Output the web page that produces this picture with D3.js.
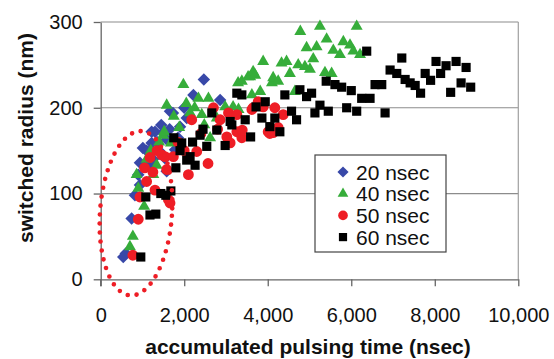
<!DOCTYPE html>
<html>
<head>
<meta charset="utf-8">
<script src="https://cdn.jsdelivr.net/npm/d3@7"></script>
<style>
  body { margin: 0; background: #fff; }
  svg { display: block; font-family: "Liberation Sans", Arial, sans-serif; }
</style>
</head>
<body>
<svg id="chart" width="554" height="359"></svg>
<script>
// switched radius vs accumulated pulsing time, four pulse widths

const seriesNames = ["20 nsec", "40 nsec", "50 nsec", "60 nsec"];
const yTicks = [0, 100, 200, 300];
const xTicks = [0, 2000, 4000, 6000, 8000, 10000];

// [accumulated time (nsec), radius (nm)]
const pts20 = [
  [540,26],[600,30],[740,71],[820,98],[900,122],[940,110],[940,136],[1010,153],
  [1100,150],[1140,133],[1180,150],[1220,159],[1220,172],[1250,140],[1300,172],
  [1350,160],[1400,150],[1450,180],[1490,171],[1540,141],[1580,126],[1580,163],
  [1650,175],[1660,196],[1730,194],[1780,151],[1850,165],[1900,178],[2000,200],
  [2060,188],[2220,215],[2470,233],[2860,209]
];
const pts40 = [
  [700,38],[770,50],[860,122],[900,106],[1040,85],[1100,140],[1200,150],[1260,122],
  [1340,133],[1400,160],[1500,168],[1520,172],[1580,203],[1680,159],[1750,190],
  [1880,177],[1980,227],[2050,205],[2140,194],[2250,200],[2340,211],[2420,192],
  [2480,180],[2580,211],[2620,165],[2780,188],[2980,201],[3170,201],[3290,229],
  [3300,198],[3380,231],[3530,236],[3580,236],[3620,215],[3650,242],[3700,238],
  [3820,219],[3890,254],[4100,229],[4130,235],[4250,231],[4330,252],[4450,254],
  [4530,240],[4650,219],[4730,250],[4780,289],[4890,248],[4930,270],[5010,245],
  [5090,257],[5170,271],[5250,295],[5370,241],[5410,280],[5530,240],[5570,267],
  [5730,262],[5810,277],[5970,273],[6050,266],[6130,295],[6210,262]
];
const pts50 = [
  [770,28],[900,70],[940,96],[1050,130],[1100,114],[1180,142],[1250,125],[1300,104],
  [1350,150],[1460,145],[1540,143],[1580,128],[1620,93],[1660,89],[1740,143],
  [1850,160],[2000,150],[2100,122],[2180,186],[2300,149],[2400,170],[2570,135],
  [2700,200],[2800,175],[2860,186],[3020,166],[3060,194],[3100,159],[3260,172],
  [3260,192],[3380,165],[3390,174],[3620,198],[3650,200],[3770,207],[3890,201],
  [4010,172],[4050,170],[4130,171],[4170,200],[4250,177],[4370,192]
];
const pts60 = [
  [960,26],[1080,96],[1180,75],[1320,76],[1440,100],[1560,98],[1680,103],[1750,165],
  [1800,130],[1900,150],[1940,159],[2060,139],[2140,143],[2200,160],[2260,133],
  [2380,168],[2450,175],[2540,155],[2660,194],[2780,174],[2980,156],[3100,184],
  [3140,180],[3260,217],[3380,215],[3460,186],[3590,166],[3720,201],[3860,188],
  [3940,207],[4050,178],[4170,188],[4290,172],[4410,215],[4570,196],[4690,186],
  [4770,221],[4930,213],[5050,217],[5130,194],[5250,203],[5400,231],[5450,196],
  [5610,227],[5770,224],[5890,200],[6000,220],[6130,196],[6250,211],[6370,266],
  [6450,211],[6570,227],[6730,227],[6810,194],[6930,244],[7090,240],[7210,258],
  [7290,233],[7410,229],[7530,226],[7660,217],[7770,240],[7900,232],[8030,254],
  [8140,240],[8270,249],[8380,218],[8510,254],[8630,229],[8750,247],[8860,224]
];

// dotted ellipse around the early points, in data units
const ringCenter = [845, 77];
const ringRadii = [862, 96];

const colors = ["#3848a8", "#36ad3a", "#ee1d25", "#000000"];
const allSeries = [pts20, pts40, pts50, pts60];

const svg = d3.select("#chart");

const x = d3.scaleLinear().domain([0, 10000]).range([100.7, 518.3]);
const y = d3.scaleLinear().domain([0, 300]).range([279.3, 22]);

// gridlines + right border
svg.append("g")
  .selectAll("line")
  .data(yTicks.filter(d => d > 0))
  .join("line")
  .attr("x1", x(0)).attr("x2", x(10000))
  .attr("y1", d => y(d)).attr("y2", d => y(d))
  .attr("stroke", "#8c8c8c").attr("stroke-width", 1.2);

svg.append("line")
  .attr("x1", x(10000)).attr("x2", x(10000))
  .attr("y1", y(300)).attr("y2", y(0))
  .attr("stroke", "#a0a0a0").attr("stroke-width", 1.2);

// axes
const xAxis = svg.append("g")
  .attr("transform", `translate(0,${y(0)})`)
  .call(d3.axisBottom(x).tickValues(xTicks).tickFormat(d3.format(",")).tickSize(7).tickPadding(22).tickSizeOuter(0));

const yAxis = svg.append("g")
  .attr("transform", `translate(${x(0)},0)`)
  .call(d3.axisLeft(y).tickValues(yTicks).tickSize(7).tickPadding(11).tickSizeOuter(0));

[xAxis, yAxis].forEach(g => {
  g.select(".domain").attr("stroke", "#666").attr("stroke-width", 1.3);
  g.selectAll(".tick line").attr("stroke", "#666").attr("stroke-width", 1.3);
  g.selectAll(".tick text")
    .attr("fill", "#111")
    .style("font-size", "20px")
    .style("font-family", "Liberation Sans, Arial, sans-serif");
});
// y axis extends down through the x tick length
yAxis.append("line")
  .attr("x1", 0).attr("x2", 0)
  .attr("y1", y(0)).attr("y2", y(0) + 7)
  .attr("stroke", "#666").attr("stroke-width", 1.3);

// markers
const shapes = [
  { type: d3.symbolSquare, size: 78, rot: 45 },
  { type: d3.symbolTriangle, size: 62, rot: 0 },
  { type: d3.symbolCircle, size: 92, rot: 0 },
  { type: d3.symbolSquare, size: 84, rot: 0 }
];

allSeries.forEach((pts, i) => {
  const sym = d3.symbol().type(shapes[i].type).size(shapes[i].size);
  svg.append("g")
    .selectAll("path")
    .data(pts)
    .join("path")
    .attr("d", sym)
    .attr("transform", d => `translate(${x(d[0])},${y(d[1])}) rotate(${shapes[i].rot})`)
    .attr("fill", colors[i]);
});

// dotted red ring
const cx = x(ringCenter[0]), cy = y(ringCenter[1]);
const rx = x(ringCenter[0] + ringRadii[0]) - cx;
const ry = cy - y(ringCenter[1] + ringRadii[1]);
svg.append("ellipse")
  .attr("cx", cx).attr("cy", cy)
  .attr("rx", rx).attr("ry", ry)
  .attr("transform", `rotate(4,${cx},${cy})`)
  .attr("fill", "none")
  .attr("stroke", "#ee1d25")
  .attr("stroke-width", 4.6)
  .attr("stroke-linecap", "round")
  .attr("stroke-dasharray", "0 9");

// legend
const legend = svg.append("g").attr("transform", "translate(315,155)");
legend.append("rect")
  .attr("width", 131).attr("height", 97)
  .attr("fill", "#fff").attr("stroke", "#444").attr("stroke-width", 1.2);

seriesNames.forEach((name, i) => {
  const row = legend.append("g").attr("transform", `translate(0,${17 + i * 21.7})`);
  const s = shapes[i];
  row.append("path")
    .attr("d", d3.symbol().type(s.type).size(s.size * 0.8)())
    .attr("transform", `translate(28,0) rotate(${s.rot})`)
    .attr("fill", colors[i]);
  row.append("text")
    .attr("x", 41).attr("y", 7.5)
    .style("font-size", "21px")
    .attr("fill", "#111")
    .text(name);
});

// axis titles
svg.append("text")
  .attr("x", 308).attr("y", 354)
  .attr("text-anchor", "middle")
  .style("font-size", "21px").style("font-weight", "bold")
  .attr("fill", "#111")
  .text("accumulated pulsing time (nsec)");

svg.append("text")
  .attr("transform", "translate(33,138) rotate(-90)")
  .attr("text-anchor", "middle")
  .style("font-size", "21px").style("font-weight", "bold")
  .attr("fill", "#111")
  .text("switched radius (nm)");
</script>
</body>
</html>
